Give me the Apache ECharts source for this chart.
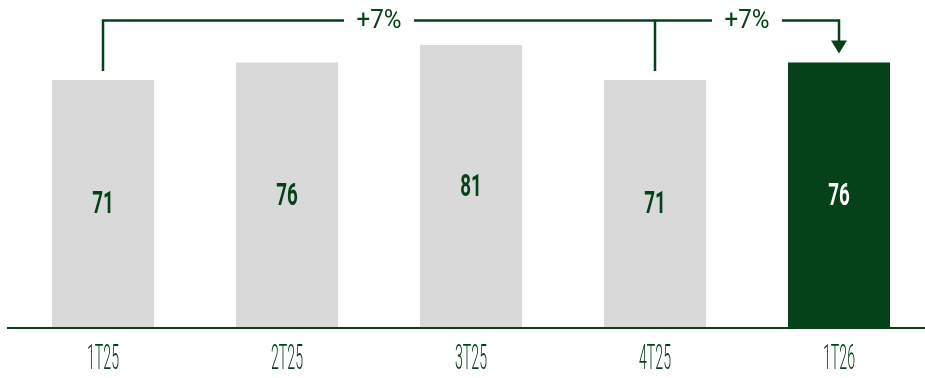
<!DOCTYPE html>
<html>
<head>
<meta charset="utf-8">
<title>Quarterly figures</title>
<script src="https://cdn.jsdelivr.net/npm/echarts@6/dist/echarts.min.js"></script>
<style>
  html, body { margin: 0; padding: 0; background: #ffffff; }
  #chart { width: 925px; height: 378px; }
</style>
</head>
<body>
<div id="chart"></div>
<script>
// Quarters and their values
const categories = ['1T25', '2T25', '3T25', '4T25', '1T26'];
const values = [71, 76, 81, 71, 76];
const highlightIndex = 4;

// Year-on-year comparisons drawn as brackets over the bars
const changeFrom = [0, 3];
const changeTo = [3, 4];
const changeLabels = ['+7%', '+7%'];
const bracketLevel = 88;

const GREEN = '#05421a';
const GREY = '#d9d9d9';
const LIGHT_FONT = 'Roboto';
const BOLD_FONT = 'Roboto';

const chart = echarts.init(document.getElementById('chart'));

chart.setOption({
  animation: false,
  grid: { left: 11, right: -6, top: 13.6, bottom: 50, containLabel: false, outerBoundsMode: 'none' },
  xAxis: {
    type: 'category',
    data: categories,
    boundaryGap: true,
    axisLine: { show: false },
    axisTick: { show: false },
    axisLabel: { show: false }
  },
  yAxis: {
    type: 'value',
    min: 0,
    max: 90,
    show: false,
    splitLine: { show: false }
  },
  series: [{
    type: 'bar',
    barWidth: 102,
    data: values.map((v, i) => ({
      value: v,
      itemStyle: { color: i === highlightIndex ? GREEN : GREY }
    })),
    label: { show: false }
  }]
});

// Condensed lettering: squeeze a regular face horizontally to a fixed width ratio
const measureCtx = document.createElement('canvas').getContext('2d');
function textWidth(text, weight, size, family) {
  measureCtx.font = weight + ' ' + size + 'px ' + family;
  return measureCtx.measureText(text).width;
}

const axisSize = 35;
const axisSqueeze = 32 / textWidth('1T25', 300, axisSize, LIGHT_FONT);
const valueSize = 31;
const valueSqueeze = 21.5 / textWidth('71', 'bold', valueSize, BOLD_FONT);
const changeSize = 26;
const changeSqueeze = 45 / textWidth('+7%', 'normal', changeSize, LIGHT_FONT);

function px(i, v) {
  return chart.convertToPixel({ gridIndex: 0 }, [i, v]);
}

function label(text, x, y, squeeze, size, weight, color) {
  return {
    type: 'text',
    x: x, y: y, z: 100,
    scaleX: squeeze,
    style: {
      text: text, fill: color,
      fontSize: size, fontWeight: weight, fontFamily: weight === 'bold' ? BOLD_FONT : LIGHT_FONT,
      align: 'center', verticalAlign: 'middle'
    }
  };
}

const graphics = [];

// Baseline running almost the full width of the chart
const baseY = px(0, 0)[1];
graphics.push({
  type: 'line', z: 100,
  shape: { x1: 7, y1: baseY, x2: chart.getWidth(), y2: baseY },
  style: { stroke: GREEN, lineWidth: 2 }
});

// Category names under the axis
categories.forEach((c, i) => {
  graphics.push(label(c, px(i, 0)[0], baseY + 32, axisSqueeze, axisSize, 300, GREEN));
});

// Value written in the middle of each bar
values.forEach((v, i) => {
  const p = px(i, v / 2);
  graphics.push(label(String(v), p[0], p[1] + 1.5, valueSqueeze, valueSize, 'bold',
    i === highlightIndex ? '#ffffff' : GREEN));
});

// Brackets linking compared quarters
const lineStyle = { stroke: GREEN, lineWidth: 2.5, fill: null, lineJoin: 'miter' };
const barGap = 9;
const labelHalfGap = 35;
const yB = px(0, bracketLevel)[1];
changeLabels.forEach((lab, k) => {
  const a = changeFrom[k], b = changeTo[k];
  const xa = px(a, 0)[0];
  const xb = px(b, 0)[0];
  const xm = (xa + xb) / 2;
  const yaTop = px(a, values[a])[1] - barGap;
  const ybTop = px(b, values[b])[1] - barGap;
  const isLast = k === changeLabels.length - 1;

  // left leg: a vertical from the first bar when it starts a chain, else carry on from the previous label
  const leftStart = k === 0
    ? [[xa, yaTop], [xa, yB], [xm - labelHalfGap, yB]]
    : [[(px(changeFrom[k - 1], 0)[0] + px(changeTo[k - 1], 0)[0]) / 2 + labelHalfGap, yB], [xm - labelHalfGap, yB]];
  graphics.push({ type: 'polyline', z: 100, shape: { points: leftStart }, style: lineStyle });

  if (isLast) {
    const arrowLen = 13, arrowHalf = 8;
    graphics.push({
      type: 'polyline', z: 100,
      shape: { points: [[xm + labelHalfGap, yB], [xb, yB], [xb, ybTop - arrowLen + 1]] },
      style: lineStyle
    });
    graphics.push({
      type: 'polygon', z: 100,
      shape: { points: [[xb - arrowHalf, ybTop - arrowLen], [xb + arrowHalf, ybTop - arrowLen], [xb, ybTop]] },
      style: { fill: GREEN }
    });
  } else {
    // T-junction down to the compared bar
    graphics.push({ type: 'line', z: 100, shape: { x1: xb, y1: yB, x2: xb, y2: ybTop }, style: lineStyle });
  }

  graphics.push(label(lab, xm, yB + 1, changeSqueeze, changeSize, 'normal', GREEN));
});

chart.setOption({ graphic: graphics });
</script>
</body>
</html>
